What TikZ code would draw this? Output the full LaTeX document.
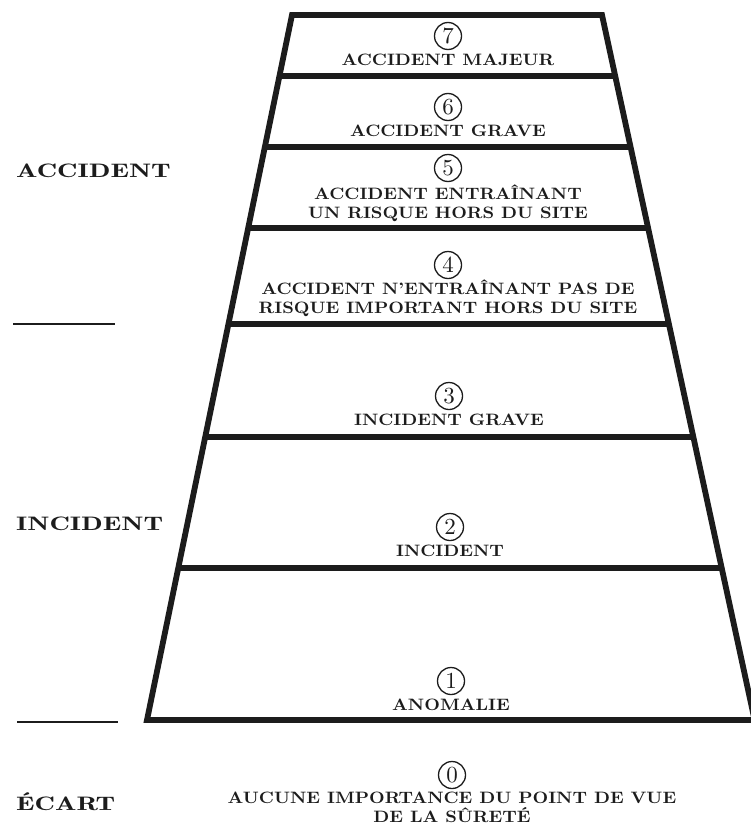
\documentclass[tikz,border=0pt]{standalone}
\usepackage{fontspec}
\setmainfont{lmroman10-regular.otf}
\newfontfamily\innerfam{lmroman10-bold.otf}[FakeStretch=1.1]
\newfontfamily\sidefam{lmromandemi10-regular.otf}[FakeStretch=1.45]
\usetikzlibrary{calc}
\definecolor{ink}{HTML}{1C1C1C}
\newcommand\lvlfont{\innerfam\fontsize{16.5}{19.5}\selectfont}
\newcommand\lvlwide{\innerfam\fontsize{16.5}{19}\selectfont}
\newcommand\numfont{\fontsize{23}{23}\selectfont}
\newcommand\sidefnt{\sidefam\fontsize{19.5}{21}\selectfont}
\begin{document}
\begin{tikzpicture}[x=1pt,y=-1pt,
  frame/.style={line width=5.8pt, draw=ink, line join=miter},
  rung/.style={line width=5.2pt, draw=ink},
  stub/.style={line width=2.6pt, draw=ink},
  num/.style={circle, draw=ink, line width=1.3pt, minimum size=27pt, inner sep=0pt, font=\numfont, text=ink},
  lvl/.style={align=center, font=\lvlfont, text=ink, inner sep=0pt},
  side/.style={anchor=west, font=\sidefnt, text=ink, inner sep=0pt}]
\useasboundingbox (0,0) rectangle (750,827);
\fill[white] (0,0) rectangle (750,827);
% trapezoid
\coordinate (TL) at (292,15);
\coordinate (TR) at (602,15);
\coordinate (BL) at (147,720);
\coordinate (BR) at (754.6,720);
\draw[frame] (BL) -- (TL) -- (TR) -- (BR) -- cycle;
\foreach \yy in {76,147,228,324,437,568}{
  \draw[rung] ($(TL)!{(\yy-15)/705}!(BL)$) -- ($(TR)!{(\yy-15)/705}!(BR)$);
}
% levels
\node[num] (n7) at (448,36) {7};
\node[lvl] (t7) at (448,60) {ACCIDENT MAJEUR};
\node[num] (n6) at (448,107) {6};
\node[lvl] (t6) at (448,131) {ACCIDENT GRAVE};
\node[num] (n5) at (448,168) {5};
\node[lvl] (t5) at (448,203) {ACCIDENT ENTRAÎNANT\\UN RISQUE HORS DU SITE};
\node[num] (n4) at (448,265) {4};
\node[lvl] (t4) at (448,298) {ACCIDENT N’ENTRAÎNANT PAS DE\\RISQUE IMPORTANT HORS DU SITE};
\node[num] (n3) at (449,396) {3};
\node[lvl] (t3) at (449,420) {INCIDENT GRAVE};
\node[num] (n2) at (450,527) {2};
\node[lvl] (t2) at (450,551) {INCIDENT};
\node[num] (n1) at (451,681) {1};
\node[lvl] (t1) at (451,705) {ANOMALIE};
\node[num] (n0) at (452,775) {0};
\node[lvl, font=\lvlwide] (t0) at (452,807) {AUCUNE IMPORTANCE DU POINT DE VUE\\DE LA SÛRETÉ};
% side labels
\node[side] (sa) at (16,171) {ACCIDENT};
\node[side] (si) at (16,524) {INCIDENT};
\node[side] (se) at (16,802) {ÉCART};
\coordinate (s1a) at (13,324);
\coordinate (s1b) at (115,324);
\coordinate (s2a) at (17,722);
\coordinate (s2b) at (118,722);
\draw[stub] (s1a) -- (s1b);
\draw[stub] (s2a) -- (s2b);
\end{tikzpicture}
\end{document}
